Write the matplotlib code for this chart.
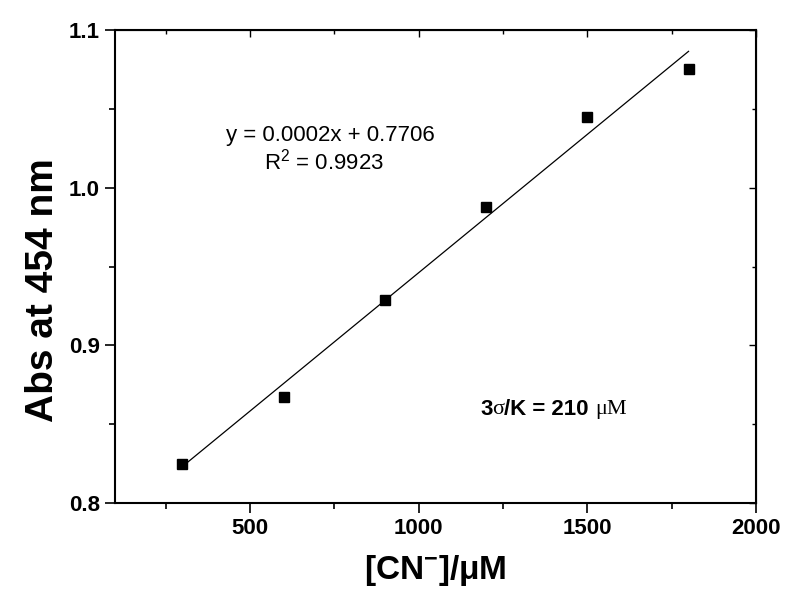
import numpy as np
import matplotlib
matplotlib.use("Agg")
import matplotlib.pyplot as plt
from matplotlib.ticker import MultipleLocator

plt.rcParams['font.family'] = ['Liberation Sans', 'DejaVu Sans']
plt.rcParams['mathtext.default'] = 'regular'

# concentration of CN- (uM) and absorbance at 454 nm
conc = [300, 600, 900, 1200, 1500, 1800]
absorb = [0.825, 0.867, 0.929, 0.988, 1.045, 1.075]

x_ticks = [500, 1000, 1500, 2000]
y_ticks = [0.8, 0.9, 1.0, 1.1]

fig = plt.figure(figsize=(7.9, 6.1), dpi=100)
ax = fig.add_axes([0.1456, 0.1754, 0.8114, 0.7754])

# linear fit line over the data range
k, b = np.polyfit(conc, absorb, 1)
xs = np.array([conc[0], conc[-1]])
ax.plot(xs, k * xs + b, color='black', lw=0.9)
ax.plot(conc, absorb, 's', color='black', ms=7.5)

ax.set_xlim(100, 2000)
ax.set_ylim(0.8, 1.1)
ax.set_xticks(x_ticks)
ax.set_yticks(y_ticks)
ax.set_yticklabels([f"{v:.1f}" for v in y_ticks])
ax.xaxis.set_minor_locator(MultipleLocator(250))
ax.yaxis.set_minor_locator(MultipleLocator(0.05))
ax.tick_params(which='major', direction='out', length=7, width=1.2,
               labelsize=16, pad=4)
ax.tick_params(which='minor', direction='out', length=4, width=1.2)
for lab in ax.get_xticklabels() + ax.get_yticklabels():
    lab.set_fontweight('bold')
for sp in ax.spines.values():
    sp.set_linewidth(1.5)

# inward ticks on top and right, no labels
top = ax.secondary_xaxis('top')
top.set_xticks(x_ticks)
top.xaxis.set_minor_locator(MultipleLocator(250))
top.tick_params(which='both', direction='in', labeltop=False, width=1.0)
top.tick_params(which='major', length=5)
top.tick_params(which='minor', length=3)
right = ax.secondary_yaxis('right')
right.set_yticks(y_ticks)
right.yaxis.set_minor_locator(MultipleLocator(0.05))
right.tick_params(which='both', direction='in', labelright=False, width=1.0)
right.tick_params(which='major', length=5)
right.tick_params(which='minor', length=3)

ax.set_xlabel("[CN$^{-}$]/μM", fontsize=24, fontweight='bold', labelpad=10)
ax.set_ylabel("Abs at 454 nm", fontsize=28, fontweight='bold')
ax.yaxis.set_label_coords(-0.085, 0.45)

ax.text(737, 1.0334, "y = 0.0002x + 0.7706", fontsize=16, ha='center', va='center')
ax.text(720, 1.0163, "R$^{2}$ = 0.9923", fontsize=16, ha='center', va='center')

# 3σ/K = 210 μM with serif Greek letters, drawn piece by piece
pieces = [("3", 'Liberation Sans'), ("σ", 'Liberation Serif'),
          ("/K = 210 ", 'Liberation Sans'), ("μM", 'Liberation Serif')]
renderer = fig.canvas.get_renderer()
x0, y0 = ax.transData.transform((1182, 0.859))
for s, fam in pieces:
    t = fig.text(x0 / fig.dpi / 7.9, y0 / fig.dpi / 6.1, s, fontsize=16,
                 fontweight='bold' if fam == 'Liberation Sans' else 'normal',
                 family=fam, va='center', ha='left')
    bb = t.get_window_extent(renderer)
    x0 = bb.x1

fig.savefig("out.png", dpi=100)
